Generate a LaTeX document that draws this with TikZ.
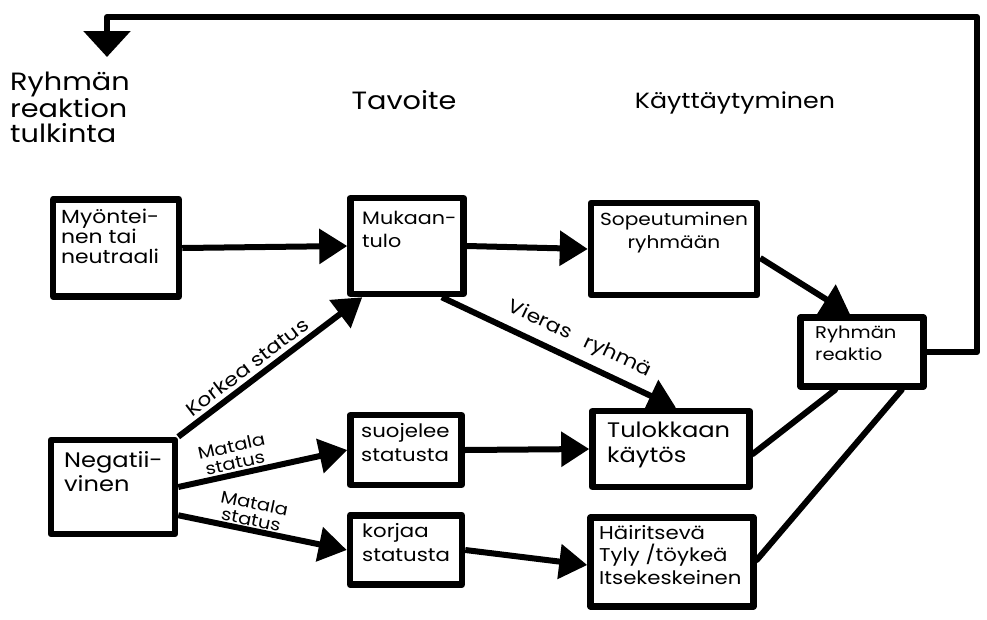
\documentclass[tikz,border=0pt]{standalone}
\usepackage{fontspec}
\setmainfont{Poppins}[FakeStretch=1.15]
\usetikzlibrary{arrows.meta,calc}
\newcommand{\fsz}[2]{\fontsize{#1}{#2}\selectfont}
\begin{document}
\begin{tikzpicture}[x=1pt,y=-1pt,
  box/.style={draw, line width=6.5pt, rectangle, inner sep=0pt, line join=round},
  conn/.style={line width=6pt, -{Triangle[length=28pt,width=34pt]}},
  plain/.style={line width=6pt, line cap=round},
  txt/.style={align=left, inner sep=0pt},
  head/.style={inner sep=0pt, align=left},
  lab/.style={inner sep=2pt, align=center}
]
\useasboundingbox (0,0) rectangle (987,619);

% boxes
\node[box, minimum width=126pt, minimum height=97pt] (myo) at (116,248) {};
\node[box, minimum width=113pt, minimum height=96pt] (muk) at (407,246) {};
\node[box, minimum width=166pt, minimum height=92pt] (sop) at (674,249) {};
\node[box, minimum width=123pt, minimum height=69pt] (rr) at (862,352) {};
\node[box, minimum width=124pt, minimum height=94pt] (neg) at (113,487) {};
\node[box, minimum width=111pt, minimum height=70pt] (suo) at (406,450) {};
\node[box, minimum width=112pt, minimum height=69pt] (kor) at (406,550) {};
\node[box, minimum width=157pt, minimum height=76pt] (tul) at (671,449) {};
\node[box, minimum width=163pt, minimum height=89pt] (hai) at (672,562) {};

% box texts
\node[txt, font=\fsz{19}{20}, anchor=north west] (tmyo) at (61,209) {Myöntei-\\nen tai\\neutraali};
\node[txt, font=\fsz{18}{23}, anchor=north west] (tmuk) at (362,211) {Mukaan-\\tulo};
\node[txt, font=\fsz{17.5}{23}, anchor=north, align=center] (tsop) at (674,212) {Sopeutuminen\\ryhmään};
\node[txt, font=\fsz{17}{22}, anchor=north west] (trr) at (815,326) {Ryhmän\\reaktio};
\node[txt, font=\fsz{21}{24}, anchor=north west] (tneg) at (64,451) {Negatii-\\vinen};
\node[txt, font=\fsz{18.5}{24}, anchor=north west] (tsuo) at (361,423) {suojelee\\statusta};
\node[txt, font=\fsz{18.5}{24}, anchor=north west] (tkor) at (362,523) {korjaa\\statusta};
\node[txt, font=\fsz{21}{25}, anchor=north west] (ttul) at (607,422) {Tulokkaan\\käytös};
\node[txt, font=\fsz{18.5}{22.5}, anchor=north west] (thai) at (599,525) {Häiritsevä\\Tyly /töykeä\\Itsekeskeinen};

% headings
\node[head, font=\fsz{25}{25}, anchor=north west] (hry) at (10,72) {Ryhmän\\reaktion\\tulkinta};
\node[head, font=\fsz{25}{25}] (htav) at (404,100) {Tavoite};
\node[head, font=\fsz{22}{25}] (hkay) at (735,103) {Käyttäytyminen};

% connectors
\draw[conn] (myo.east) -- (muk.west);
\draw[conn] (muk.east) -- (sop.west);
\draw[conn] ($(sop.east)+(0,9)$) -- ($(rr.north)+(-12,0)$);
\draw[conn] ($(muk.south east)+(-25,0)$) -- ($(tul.north)+(5,0)$)
  node[lab, font=\fsz{19}{20}, pos=0.55, sloped, above=6pt] (lvie) {Vieras\hspace{16pt}ryhmä};
\draw[conn] (neg.north east) -- ($(muk.south west)+(15,0)$)
  node[lab, font=\fsz{19}{20}, pos=0.42, sloped, above=2pt] (lkor) {Korkea status};
\draw[conn] (neg.east) -- (suo.west)
  node[lab, font=\fsz{17}{17}, pos=0.35, sloped, above=0pt] (lmat1) {Matala\\status};
\draw[conn] ($(neg.south east)+(0,-22)$) -- (kor.west)
  node[lab, font=\fsz{17}{17}, pos=0.42, sloped, above=-1pt] (lmat2) {Matala\\status};
\draw[conn] (suo.east) -- (tul.west);
\draw[conn] (kor.east) -- ($(hai.west)+(0,3)$);
\draw[plain] ($(tul.east)+(0,5)$) -- ($(rr.south west)+(38,0)$);
\draw[plain] ($(hai.east)+(0,-2)$) -- ($(rr.south east)+(-25,0)$);

% feedback loop
\coordinate (fbR) at (977,17);
\coordinate (fbL) at (107,17);
\coordinate (fbEnd) at (107,57);
\draw[line width=6pt, line join=round, -{Triangle[length=26pt,width=46pt]}]
  (rr.east) -| (fbR) -- (fbL) -- (fbEnd);
\end{tikzpicture}
\end{document}
